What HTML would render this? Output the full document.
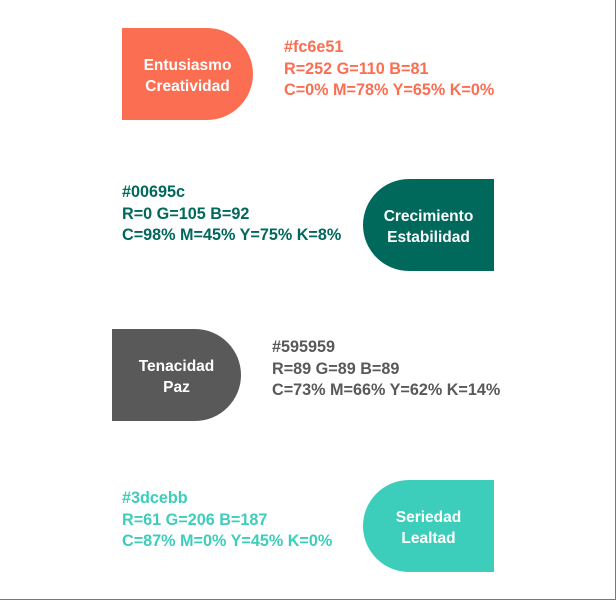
<!DOCTYPE html>
<html><head><meta charset="utf-8"><style>
body{margin:0;background:#fff}
#c{position:relative;width:615px;height:599px;border-right:1px solid #777;border-bottom:1px solid #777;overflow:hidden;font-family:"Liberation Sans",sans-serif;font-weight:bold}
.s{position:absolute;width:131px;height:92px;box-sizing:border-box;padding-top:4px;color:#fff;font-size:15.5px;line-height:21px;display:flex;align-items:center;justify-content:center;text-align:center}
.r{border-radius:0 46px 46px 0}
.l{border-radius:46px 0 0 46px}
.t{position:absolute;font-size:16.2px;line-height:21.5px;white-space:nowrap}
</style></head><body><div id="c">
<div class="s r" style="left:122px;top:28px;background:#fc6e51">Entusiasmo<br>Creatividad</div>
<div class="t" style="left:284px;top:37px;color:#fc6e51">#fc6e51<br>R=252 G=110 B=81<br>C=0% M=78% Y=65% K=0%</div>
<div class="s l" style="left:363px;top:179px;background:#00695c">Crecimiento<br>Estabilidad</div>
<div class="t" style="left:122px;top:182px;color:#00695c">#00695c<br>R=0 G=105 B=92<br>C=98% M=45% Y=75% K=8%</div>
<div class="s r" style="left:112px;top:329px;width:129px;background:#595959">Tenacidad<br>Paz</div>
<div class="t" style="left:272px;top:337px;color:#595959">#595959<br>R=89 G=89 B=89<br>C=73% M=66% Y=62% K=14%</div>
<div class="s l" style="left:363px;top:480px;background:#3dcebb">Seriedad<br>Lealtad</div>
<div class="t" style="left:122px;top:488px;color:#3dcebb">#3dcebb<br>R=61 G=206 B=187<br>C=87% M=0% Y=45% K=0%</div>
</div></body></html>
